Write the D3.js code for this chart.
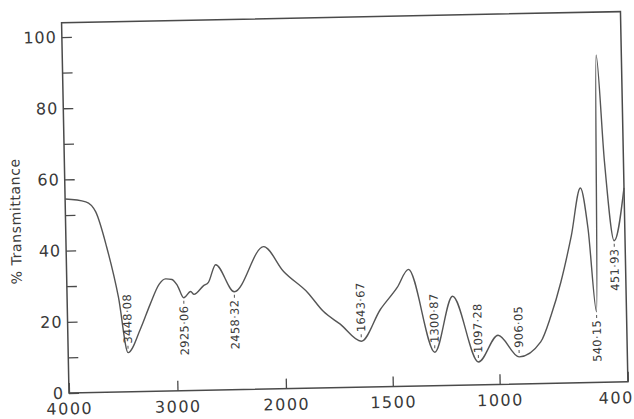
<!DOCTYPE html>
<html>
<head>
<meta charset="utf-8">
<script src="https://cdn.jsdelivr.net/npm/d3@7"></script>
<style>
  body { margin: 0; background: #fff; }
  svg { display: block; }
  text { font-family: "DejaVu Sans", sans-serif; fill: #3a3a3a; }
</style>
</head>
<body>
<div class="ir-wrapper"></div>
<script>
// IR spectrum
const wavenumbers = [4000, 3810, 3720, 3626, 3527, 3448, 3331, 3235, 3150, 3090, 3030, 2980, 2925, 2860, 2830,
  2740, 2695, 2625, 2458, 2180, 2000, 1890, 1818, 1740, 1643, 1551, 1470, 1416, 1300, 1212, 1097,
  1003, 906, 804, 754, 704, 651, 604, 572, 540, 518, 489, 451, 400]
const transmittance = [54.5, 53.6, 50.7, 40.8, 26.7, 11, 17.5, 24.5, 30, 31.5, 31.3, 29.5, 26.1, 27.8, 27.0,
  29.4, 30.3, 35.2, 27.5, 40.0, 32.9, 26.9, 21.5, 17.8, 12.9, 21.7, 27.8, 32.8, 9.4, 25.0, 6.4,
  13.8, 7.6, 11.7, 18.9, 28.4, 41.3, 54.7, 43.2, 19.8, 92, 62, 39.7, 54.5]

// marked bands: label, position of minimum, which side of the curve the label sits
const peakLabels = ['3448·08', '2925·06', '2458·32', '1643·67', '1300·87', '1097·28', '906·05', '540·15', '451·93']
const peakWn = [3448, 2925, 2458, 1643, 1300, 1097, 906, 540, 451]
const peakT = [11, 26.1, 27.5, 12.9, 9.4, 6.4, 7.6, 19.8, 39.7]
const peakSide = ['up', 'down', 'down', 'up', 'up', 'up', 'up', 'down', 'down']

const xTicks = [4000, 3000, 2000, 1500, 1000, 400]
const yTicks = [0, 10, 20, 30, 40, 50, 60, 70, 80, 90, 100]

const width = 634, height = 419
const plotW = 559, plotH = 356

const svg = d3.select('.ir-wrapper')
  .append('svg')
  .attr('width', width)
  .attr('height', height)

// the scan is slightly tilted, so the whole plot is turned a little
const g = svg.append('g')
  .attr('transform', 'translate(69,393) rotate(-1.15)')

// scale change at 2000 cm-1 like on the instrument chart
const x = d3.scaleLinear()
  .domain([4000, 2000, 400])
  .range([0, 217, plotW])

const y = d3.scaleLinear()
  .domain([0, 100])
  .range([0, -plotH])

const topT = 104

g.append('rect')
  .attr('x', 0)
  .attr('y', y(topT))
  .attr('width', plotW)
  .attr('height', -y(topT))
  .attr('fill', 'none')
  .attr('stroke', '#4a4a4a')
  .attr('stroke-width', 1.5)

const yAxis = g.append('g')
  .call(d3.axisLeft(y)
    .tickValues(yTicks)
    .tickSize(-10)
    .tickPadding(5)
    .tickFormat(d => d % 20 === 0 ? d : ''))
yAxis.select('.domain').remove()
yAxis.selectAll('line').attr('stroke', '#4a4a4a').attr('stroke-width', 1.3)
yAxis.selectAll('text')
  .attr('font-size', 16)
  .attr('letter-spacing', 1)
  .attr('font-family', '"DejaVu Sans", sans-serif')
  .attr('fill', '#3a3a3a')

const xAxis = g.append('g')
  .call(d3.axisBottom(x)
    .tickValues(xTicks)
    .tickSize(-10)
    .tickPadding(10)
    .tickFormat(d => d))
xAxis.select('.domain').remove()
xAxis.selectAll('line').attr('stroke', '#4a4a4a').attr('stroke-width', 1.3)
xAxis.selectAll('text')
  .attr('font-size', 16)
  .attr('letter-spacing', 1.5)
  .attr('font-family', '"DejaVu Sans", sans-serif')
  .attr('fill', '#3a3a3a')
xAxis.selectAll('.tick')
  .filter(d => d === 400)
  .select('text')
  .attr('text-anchor', 'end')
  .attr('dx', 5)

g.append('text')
  .attr('transform', `translate(-45,${y(48.5)}) rotate(-90)`)
  .attr('text-anchor', 'middle')
  .attr('font-size', 14)
  .attr('letter-spacing', 0.6)
  .text('% Transmittance')

const points = wavenumbers.map((w, i) => [w, transmittance[i]])

const line = d3.line()
  .x(d => x(d[0]))
  .y(d => y(d[1]))
  .curve(d3.curveMonotoneX)

g.append('path')
  .datum(points)
  .attr('d', line)
  .attr('fill', 'none')
  .attr('stroke', '#555')
  .attr('stroke-width', 1.4)

const peaks = g.append('g')

peakLabels.forEach((label, i) => {
  const px = x(peakWn[i])
  const py = y(peakT[i])
  const up = peakSide[i] === 'up'
  const gap = up ? -4 : 3
  peaks.append('line')
    .attr('x1', px).attr('x2', px)
    .attr('y1', py + gap).attr('y2', py + gap + (up ? -3 : 3))
    .attr('stroke', '#555')
    .attr('stroke-width', 1)
  peaks.append('text')
    .attr('transform', `translate(${px},${py + gap + (up ? -5 : 5)}) rotate(-90)`)
    .attr('text-anchor', up ? 'start' : 'end')
    .attr('dominant-baseline', 'central')
    .attr('font-size', 11.5)
    .attr('letter-spacing', 0.3)
    .text(label)
})
</script>
</body>
</html>
